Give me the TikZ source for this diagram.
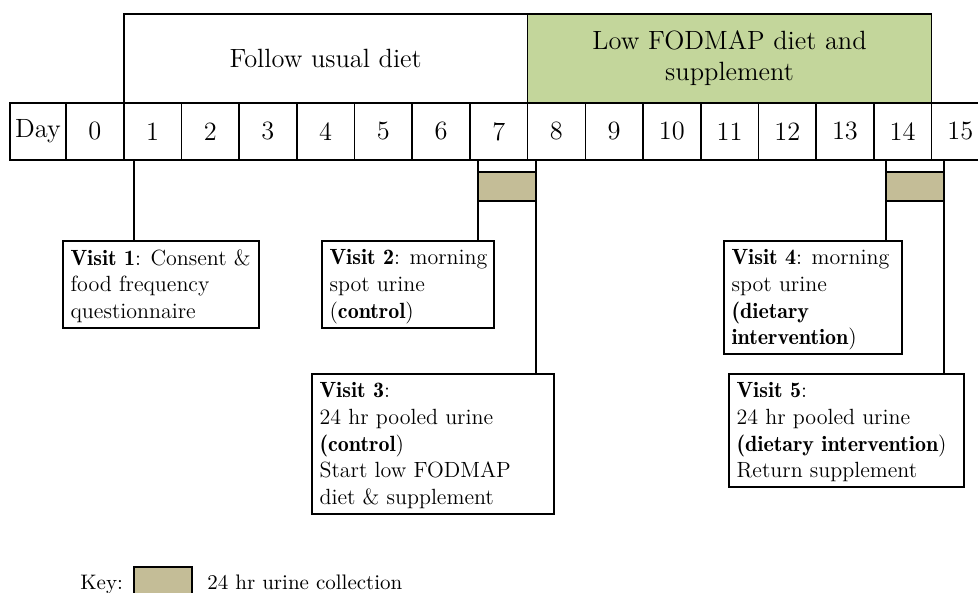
\documentclass[tikz,border=0pt]{standalone}
\usepackage{tikz}
\definecolor{lowgreen}{HTML}{C3D69B}
\definecolor{urinetan}{HTML}{C4BD97}
\newcommand\vbold[1]{{\fontseries{b}\selectfont #1}}
\begin{document}
\begin{tikzpicture}[x=0.5pt,y=-0.5pt,
  big/.style={font=\fontsize{13.2}{15.6}\selectfont},
  cell/.style={draw,line width=0.8pt,anchor=north west,minimum width=28.85pt,minimum height=28.5pt,inner sep=0pt,outer sep=0pt,big},
  band/.style={draw,line width=0.8pt,anchor=north west,minimum width=201.95pt,minimum height=44.5pt,inner sep=0pt,outer sep=0pt,big,align=center},
  urine/.style={draw,line width=0.65pt,fill=urinetan,anchor=north west,minimum width=29pt,minimum height=14.5pt,inner sep=0pt,outer sep=0pt},
  vbox/.style={draw,line width=0.7pt,anchor=north west,inner sep=0pt,outer sep=0pt},
  vtext/.style={anchor=north west,inner xsep=3.6pt,inner ysep=4pt,align=left,font=\fontsize{11}{13.4}\selectfont},
  link/.style={line width=0.7pt},
  keytxt/.style={anchor=base west,inner sep=0pt,font=\fontsize{10.5}{12}\selectfont}]
\useasboundingbox (0,0) rectangle (978,593);
\clip (0,0) rectangle (978,593);
% bands
\node[band] (usual) at (123.7,14) {Follow usual diet};
\node[band,fill=lowgreen] (low) at (527.6,14) {Low FODMAP diet and\\supplement};
% day row
\node[cell,minimum width=28pt] (dday) at (10,103) {Day};
\foreach \i in {0,...,15} \node[cell] (d\i) at (66+57.7*\i,103) {\i};
% urine collections
\node[urine] (u1) at (478,172) {};
\node[urine] (u2) at (886,172) {};
% visit boxes
\node[vbox,minimum width=98pt,minimum height=43.5pt] (v1) at (63,241) {};
\node[vbox,minimum width=86pt,minimum height=43.5pt] (v2) at (322,241) {};
\node[vbox,minimum width=121pt,minimum height=70pt] (v3) at (312,374) {};
\node[vbox,minimum width=89pt,minimum height=56.5pt] (v4) at (724,241) {};
\node[vbox,minimum width=117.5pt,minimum height=56.5pt] (v5) at (729,374) {};
% visit texts
\node[vtext] (t1) at (v1.north west) {\vbold{Visit 1}: Consent \&\\food frequency\\questionnaire};
\node[vtext] (t2) at (v2.north west) {\vbold{Visit 2}: morning\\spot urine\\(\vbold{control})};
\node[vtext] (t3) at (v3.north west) {\vbold{Visit 3}:\\24 hr pooled urine\\\vbold{(control})\\Start low FODMAP\\diet \& supplement};
\node[vtext] (t4) at (v4.north west) {\vbold{Visit 4}: morning\\spot urine\\\vbold{(dietary}\\\vbold{intervention})};
\node[vtext] (t5) at (v5.north west) {\vbold{Visit 5}:\\24 hr pooled urine\\\vbold{(dietary intervention})\\Return supplement};
% connectors
\coordinate (c1) at ([xshift=5.15pt]d1.south west);
\draw[link] (c1) -- (c1 |- v1.north);
\draw[link] (u1.north west |- d7.south) -- (u1.north west);
\draw[link] (u1.south west) -- (u1.south west |- v2.north);
\draw[link] (u1.north east |- d8.south) -- (u1.north east);
\draw[link] (u1.south east) -- (u1.south east |- v3.north);
\draw[link] (u2.north west |- d14.south) -- (u2.north west);
\draw[link] (u2.south west) -- (u2.south west |- v4.north);
\draw[link] (u2.north east |- d15.south) -- (u2.north east);
\draw[link] (u2.south east) -- (u2.south east |- v5.north);
% key
\node[keytxt] (keylabel) at (80,589) {Key:};
\node[urine,minimum height=20pt] (keybox) at (134,567) {};
\node[keytxt] (keytext) at (207,589) {24 hr urine collection};
\end{tikzpicture}
\end{document}
